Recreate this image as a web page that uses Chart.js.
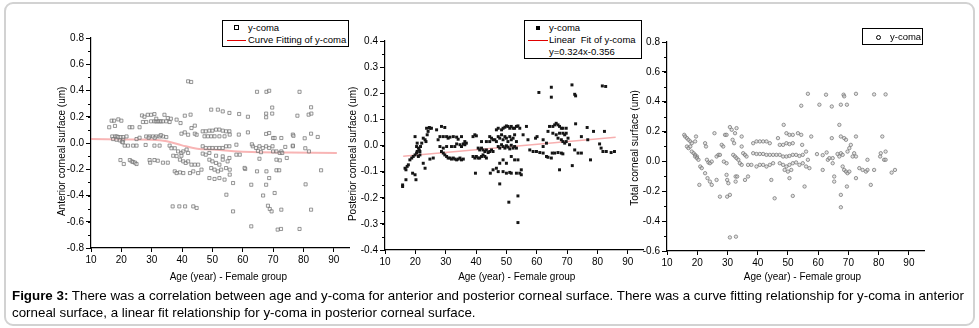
<!DOCTYPE html>
<html><head><meta charset="utf-8">
<script src="https://cdn.jsdelivr.net/npm/chart.js@4/dist/chart.umd.min.js"></script>
<style>
html,body{margin:0;padding:0;background:#fff;}
body{width:979px;height:328px;position:relative;overflow:hidden;font-family:"Liberation Sans",Arial,sans-serif;}
#frame{position:absolute;left:4px;top:2px;width:971px;height:324px;box-sizing:border-box;border:2px solid #d2d2d2;border-radius:9px;}
canvas{position:absolute;top:0;}
.leg{position:absolute;border:1px solid #000;background:#fff;box-sizing:border-box;font-size:9.5px;color:#000;}
.row{position:absolute;white-space:nowrap;line-height:12px;}
.sq{position:absolute;width:3px;height:3px;border:1px solid #000;}
.fsq{position:absolute;width:4px;height:4px;background:#000;}
.circ{position:absolute;width:3px;height:3px;border:1px solid #000;border-radius:50%;}
.rl{position:absolute;height:1px;background:#e00000;}
#cap{position:absolute;left:12px;top:287px;font-size:13.35px;line-height:17px;color:#000;white-space:nowrap;}
</style></head>
<body>
<div id="frame"></div>
<canvas id="c1" width="355" height="292" style="left:0px"></canvas>
<canvas id="c2" width="355" height="292" style="left:294px"></canvas>
<canvas id="c3" width="354" height="292" style="left:576px"></canvas>

<div class="leg" style="left:222px;top:20px;width:127px;height:27px;">
  <span class="sq" style="left:11px;top:4px;"></span>
  <span class="row" style="left:25px;top:1px;">y-coma</span>
  <span class="rl" style="left:4px;top:19px;width:19px;"></span>
  <span class="row" style="left:25px;top:13px;">Curve Fitting of y-coma</span>
</div>
<div class="leg" style="left:524px;top:20px;width:118px;height:39px;">
  <span class="fsq" style="left:11px;top:5px;"></span>
  <span class="row" style="left:24px;top:1px;">y-coma</span>
  <span class="rl" style="left:3px;top:19px;width:20px;"></span>
  <span class="row" style="left:24px;top:13px;">Linear&nbsp; Fit of y-coma</span>
  <span class="row" style="left:24px;top:25px;">y=0.324x-0.356</span>
</div>
<div class="leg" style="left:862px;top:28px;width:61px;height:17px;">
  <span class="circ" style="left:13px;top:6px;"></span>
  <span class="row" style="left:27px;top:2px;">y-coma</span>
</div>

<div id="cap"><b>Figure 3:</b> There was a correlation between age and y-coma for anterior and posterior corneal surface. There was a curve fitting relationship for y-coma in anterior<br>corneal surface, a linear fit relationship for y-coma in posterior corneal surface.</div>

<script>
// ---------- tick labels ----------
const xTickValues = [10,20,30,40,50,60,70,80,90];
const yTicksAnterior = [-0.8,-0.6,-0.4,-0.2,0.0,0.2,0.4,0.6,0.8];
const yTicksPosterior = [-0.4,-0.3,-0.2,-0.1,0.0,0.1,0.2,0.3,0.4];
const yTicksTotal = [-0.6,-0.4,-0.2,0.0,0.2,0.4,0.6,0.8];

// ---------- anterior corneal surface ----------
const anteriorAge = [
16,16.8,17.6,17.9,19,20,
17,18,18.5,19,19.8,20.6,21.7,
17.3,18.4,19.5,20.6,20.2,20.5,
21.1,22.2,23.9,25,
19.7,20.8,22.8,23.4,23.9,24.5,25,
22.7,23.6,26,
26.8,27.6,28.7,29.8,30.9,
27.1,28.2,29.8,30.9,31.5,32,32.6,33.1,33.7,34.8,35.9,
31.5,34.2,35.3,
25,26,28.2,29.3,30.4,31.5,32.6,33.7,34.8,29,31,33,
30.9,32.6,35.9,28,
29.3,30.9,32,33.7,35.3,29.5,
36.3,
36.5,37.6,38.7,39.8,40.4,41.5,42,
37.1,38.2,39.8,
37.6,38.2,39.3,40.4,
39.3,40.4,41.2,
38.2,39.5,40.9,42.8,
39.8,40.9,42,43.1,44.2,44.2,44.8,
42,43,
36.9,39.1,41,43.7,44.8,
42,43.1,44.2,45.3,
42.6,43.7,45.3,46.4,
46.8,47.8,49,50,51.2,52.3,53.4,54.5,55.6,
47.4,48.5,49.6,50.7,52.3,54,
46.8,47.8,49,50,51.2,52.3,53.4,54.5,55.6,
46.8,47.8,49,51.2,53.4,55.6,
49,50,51.2,52.3,53.4,55,
49.6,50.7,51.8,52.9,54.5,
49.6,51.8,53.4,55.6,
49,50.7,52.3,54,
54.6,55.7,55.7,56.8,56.8,
55.7,57.9,57.9,59,58.8,58.7,
61.7,61.7,60.8,62.8,62.8,
63.3,64.4,65.5,66.6,67.7,68.7,69.8,
64.7,67.8,68.7,
64.7,67.8,68.7,66.7,
67.7,67.7,67.7,68.7,67.7,68.3,68.9,69.5,
69.7,69.7,70,70.5,70,71.1,72.2,
70.5,71.1,72.2,71.1,72,71.5,72.6,
72.7,72.7,72.7,73,74.5,
76.5,76.5,76.5,78,78.7,78.7,
80.4,80.7,81.7,82.6,81.8,82.5,82.5,82.5,
84.7,85.8,
63,65,66,74,76.7,80.6,65.5,60.6
];
const anteriorComa = [
0.12,0.17,0.17,0.13,0.18,0.17,
0.05,0.05,0.05,0.045,0.045,0.045,0.05,
0.03,0.025,0.02,0.025,0.01,0.005,
-0.02,-0.02,-0.02,-0.02,
-0.13,-0.16,-0.13,-0.14,-0.145,-0.15,-0.16,
0.12,0.12,0.12,
0.21,0.2,0.215,0.215,0.22,
0.16,0.16,0.165,0.165,0.165,0.165,0.165,0.165,0.165,0.165,0.16,
0.185,0.215,0.19,
0.03,0.04,0.05,0.05,0.05,0.05,0.05,0.05,0.045,0.04,0.04,0.06,
-0.02,-0.02,-0.02,-0.015,
-0.13,-0.13,-0.135,-0.15,-0.15,-0.15,
0.185,
-0.04,-0.04,-0.064,-0.076,-0.064,-0.05,-0.076,
-0.097,-0.1,-0.097,
-0.216,-0.229,-0.224,-0.229,
-0.127,-0.14,-0.152,
0.178,0.152,0.208,0.216,
0.071,0.081,0.063,0.114,0.132,0.071,0.063,
0.47,0.465,
-0.483,-0.483,-0.483,-0.483,-0.495,
-0.14,-0.165,-0.165,-0.165,
-0.229,-0.216,-0.229,-0.203,
0.089,0.089,0.094,0.094,0.102,0.102,0.094,0.089,0.089,
0.051,0.051,0.051,0.051,0.051,0.051,
-0.025,-0.038,-0.038,-0.038,-0.038,-0.038,-0.038,-0.025,-0.025,
-0.081,-0.089,-0.076,-0.097,-0.102,-0.114,
-0.127,-0.14,-0.152,-0.165,-0.127,-0.14,
-0.191,-0.203,-0.216,-0.203,-0.191,
0.254,0.254,0.241,0.229,
-0.267,-0.274,-0.267,-0.279,
-0.394,-0.203,-0.241,-0.305,-0.521,
0.064,-0.013,-0.089,-0.089,0.221,0.064,
0.2,0.081,-0.198,-0.318,-0.635,
-0.025,-0.038,-0.025,-0.038,-0.025,-0.038,-0.025,
0.39,0.39,0.398,
-0.216,-0.216,-0.267,-0.4,
0.196,0.224,0.069,0.076,-0.318,-0.478,-0.503,-0.521,
0.27,0.224,0.038,0.038,-0.064,-0.064,-0.076,
-0.381,-0.127,-0.132,-0.208,-0.208,-0.66,-0.655,
0.038,-0.508,-0.064,-0.076,-0.114,
-0.025,-0.02,0.064,0.208,0.39,-0.655,
0.036,-0.315,0.216,0.224,-0.064,0.272,0.071,-0.508,
0.046,-0.208,
-0.01,-0.06,-0.07,-0.03,0.055,-0.04,-0.12,-0.19
];
const curveAge = [10,20,30,35,40,45,50,57,63,75,91];
const curveComa = [0.03,0.027,0.025,0.013,-0.018,-0.043,-0.05,-0.063,-0.069,-0.073,-0.076];

// ---------- posterior corneal surface ----------
const posteriorAge = [
15.8,15.8,16.9,16.6,16.9,17.3,17.7,18.2,18.8,19.3,19.9,20.4,
19.1,19.9,20.2,19.9,20.4,20.6,21.0,21.3,21.5,21.7,22.1,20.6,21.0,21.5,
22.6,23.2,23.5,23.9,24.2,24.8,23.7,24.6,25.3,22.6,23.2,25.9,24.8,
27.0,27.5,28.1,28.6,29.7,28.1,29.2,30.3,30.8,31.4,
28.6,29.2,29.7,30.3,30.8,31.4,31.9,32.5,33.0,33.6,34.1,34.7,35.2,35.8,
29.2,30.3,31.9,33.0,33.6,34.7,35.2,35.8,36.3,36.8,
32.5,33.6,34.1,35.2,36.3,
39.0,39.6,40.1,39.0,39.6,40.1,40.7,41.2,41.8,42.3,42.9,43.4,39.8,
40.7,41.2,41.8,42.3,42.9,43.4,44.0,44.5,45.1,45.6,
41.8,43.4,44.5,44.5,45.1,45.6,46.2,46.7,
44.7,45.6,46.7,47.3,47.8,
46.7,47.3,48.4,48.9,49.5,50.0,50.5,51.1,51.6,52.2,52.7,53.3,53.8,54.4,
47.3,47.8,48.4,48.9,49.5,50.0,50.5,51.1,51.6,52.2,52.7,53.3,
47.3,47.8,48.4,48.9,49.5,50.0,50.5,51.1,51.6,52.2,52.7,53.3,
47.8,48.9,50.0,51.6,52.7,53.8,
48.9,50.0,51.1,51.6,53.3,54.4,54.9,54.9,
50.8,53.8,53.8,
55.5,56.6,57.1,57.7,58.8,59.9,61.0,62.1,63.2,59.6,60.1,62.1,
60.7,64.8,64.8,
62.1,63.2,63.7,64.8,65.1,65.9,67.0,68.1,68.6,
63.7,64.2,65.3,65.9,66.4,67.0,67.5,68.1,68.6,69.7,
65.3,66.4,67.5,68.6,69.2,69.7,70.3,
67.0,68.1,68.6,69.2,69.7,70.8,
67.5,71.6,72.5,72.8,71.7,72.8,72.5,73.6,74.7,74.7,
76.6,76.8,77.7,78.7,80.7,81.2,81.6,82.7,81.8,82.9,82.3,84.5,85.6
];
const posteriorComa = [
-0.151,-0.157,-0.131,-0.087,-0.093,-0.080,-0.074,-0.055,-0.048,-0.042,-0.036,-0.029,
-0.106,-0.112,-0.131,0.034,-0.004,0.009,-0.010,-0.017,-0.023,-0.004,0.009,-0.023,-0.042,-0.036,
0.028,0.022,0.015,0.041,0.054,0.066,0.066,0.069,0.066,-0.068,-0.087,-0.048,-0.052,
0.060,0.022,-0.004,0.073,0.069,0.034,0.034,0.034,0.028,0.032,
-0.023,-0.029,-0.036,-0.042,-0.048,-0.048,-0.052,-0.048,-0.052,-0.055,-0.052,-0.048,-0.055,-0.052,
-0.010,-0.004,-0.004,-0.004,0.006,0.003,-0.004,0.006,0.003,0.009,
0.034,0.032,0.024,0.034,0.015,
0.034,0.041,0.037,-0.042,-0.048,-0.042,-0.048,-0.048,-0.042,-0.036,-0.042,-0.048,-0.106,
-0.010,-0.017,-0.010,-0.017,-0.023,-0.017,-0.027,-0.023,-0.017,-0.023,
0.015,0.015,0.015,0.034,0.028,0.022,0.022,0.015,
-0.106,-0.093,-0.087,-0.100,-0.147,
0.060,0.066,0.060,0.066,0.070,0.075,0.073,0.066,0.073,0.066,0.066,0.073,0.075,0.066,
0.034,0.028,0.041,0.022,0.034,0.028,0.015,0.034,0.022,0.028,0.041,0.015,
-0.004,-0.010,0.003,-0.004,-0.010,-0.001,-0.006,-0.013,0.001,-0.010,-0.004,-0.010,
-0.068,-0.055,-0.068,-0.042,-0.055,-0.055,
-0.100,-0.106,-0.103,-0.106,-0.106,-0.106,-0.093,-0.112,
-0.217,-0.193,-0.295,
0.041,0.073,0.022,-0.017,-0.023,-0.023,-0.027,-0.004,0.009,0.028,0.034,0.022,
0.203,0.223,0.185,
-0.029,-0.042,-0.045,-0.048,-0.029,-0.029,-0.027,-0.029,-0.032,
0.054,0.073,0.073,0.079,0.085,0.079,0.073,0.066,0.066,0.066,
0.047,0.041,0.047,0.047,0.041,0.047,0.028,
0.028,0.022,0.015,0.009,0.015,0.003,
-0.093,0.232,0.196,0.190,-0.077,0.083,-0.017,-0.029,-0.029,0.034,
0.069,0.022,-0.055,0.054,0.006,-0.010,0.228,0.226,-0.023,-0.023,0.054,-0.027,-0.023
];
const linearAge = [16,86];
const linearComa = [-0.041,0.032];

// ---------- total corneal surface ----------
const totalAge = [
15.7,16.0,16.6,17.1,17.7,18.2,19.3,19.6,
16.6,17.1,17.7,18.2,18.8,19.3,19.9,19.3,19.9,20.4,21.0,21.5,20.7,
22.6,22.9,22.6,23.2,23.7,24.2,24.8,23.4,24.2,24.8,
25.7,26.4,27.0,27.5,26.4,27.5,
28.1,28.6,29.2,29.7,28.8,29.7,29.7,29.9,30.3,29.9,30.8,
30.8,31.4,31.7,32.2,31.9,32.5,33.0,33.6,34.1,34.7,32.5,33.0,32.7,32.7,33.2,30.8,32.8,
34.7,34.7,35.2,35.8,36.3,36.8,35.8,36.8,37.9,
38.5,39.6,40.7,41.8,42.9,44.0,
38.5,39.6,40.7,41.8,42.9,44.0,45.1,46.2,
39.6,40.7,41.8,42.9,44.0,45.1,44.5,45.6,
46.7,47.3,48.4,49.5,50.5,51.6,48.6,49.5,50.5,51.6,
47.3,48.4,49.5,50.5,51.6,52.7,53.8,54.9,
47.3,48.4,49.5,50.5,51.6,52.7,53.8,54.9,56.0,
48.9,50.0,51.1,50.5,51.6,
53.3,54.4,54.7,54.4,55.5,56.0,56.6,57.1,56.6,57.7,59.6,60.4,61.5,61.5,62.8,62.6,
63.2,63.7,64.5,64.5,64.8,64.8,65.3,65.3,
66.4,67.0,67.5,68.1,67.0,67.5,67.5,68.6,69.2,67.5,67.5,
68.1,68.6,69.2,69.7,70.3,68.4,68.6,69.5,69.5,69.7,70.3,70.8,71.4,71.9,
72.5,72.5,72.5,72.5,73.6,74.7,75.8,76.3,76.3,77.4,78.5,78.5,
80.5,80.7,81.2,81.8,82.3,82.3,82.3,84.3,85.4
];
const totalComa = [
0.178,0.167,0.156,0.145,0.134,0.122,0.134,0.167,
0.100,0.089,0.100,0.066,0.055,0.044,0.033,0.033,0.022,0.011,-0.034,-0.045,-0.157,
0.122,0.100,-0.079,0.011,-0.007,-0.012,-0.001,-0.112,-0.135,-0.157,
0.189,0.033,0.044,0.044,-0.124,-0.236,
0.111,0.100,0.178,0.178,-0.001,-0.012,-0.090,-0.124,-0.146,-0.236,-0.224,
0.230,0.212,0.145,0.122,0.044,0.033,0.022,0.011,-0.012,-0.023,0.189,0.223,-0.101,-0.135,-0.101,-0.509,-0.504,
0.167,0.100,0.055,0.044,0.033,-0.023,-0.124,-0.101,-0.023,
0.122,0.134,0.134,0.134,0.134,0.122,
0.055,0.050,0.050,0.050,0.044,0.044,0.044,0.044,
-0.034,-0.023,-0.023,-0.034,-0.023,-0.012,-0.124,-0.247,
0.156,0.111,0.111,0.122,0.116,0.122,0.245,0.189,0.178,0.178,
0.044,0.033,0.033,0.037,0.044,0.044,0.037,0.044,
-0.012,-0.023,-0.034,-0.023,-0.012,-0.007,-0.023,-0.012,-0.034,
-0.057,-0.068,-0.057,-0.112,-0.231,
0.189,0.178,0.111,0.373,-0.168,0.066,0.011,-0.045,0.453,0.167,0.049,0.380,-0.057,0.042,0.060,0.447,
0.011,0.022,0.368,0.156,0.022,-0.012,-0.101,-0.135,
0.050,0.033,0.055,0.044,0.245,0.380,0.167,0.156,0.145,-0.224,-0.307,
-0.034,-0.057,-0.068,-0.079,-0.068,0.447,0.436,0.380,-0.168,0.066,0.089,0.111,0.033,0.055,
0.453,0.167,0.033,-0.112,-0.045,-0.057,-0.068,-0.057,0.011,-0.157,-0.057,0.449,
0.033,0.055,0.167,0.011,0.011,0.449,0.066,-0.075,-0.057
];

// ---------- helpers ----------
function zip(xs, ys){ const n=Math.min(xs.length, ys.length); const out=[]; for(let i=0;i<n;i++) out.push({x:xs[i], y:ys[i]}); return out; }

const FONT = '"Liberation Sans", Arial, sans-serif';

const minorTicks = {
  id: 'minorTicks',
  afterDraw(chart, args, opts){
    const s = chart.scales.y; if(!opts || !opts.step) return;
    const ctx = chart.ctx;
    ctx.save(); ctx.strokeStyle = '#000'; ctx.lineWidth = 1;
    const n = Math.round((s.max - s.min)/opts.step);
    for(let i=0;i<=n;i++){
      const v = s.min + i*opts.step;
      const p = Math.round(s.getPixelForValue(v)) + 0.5;
      ctx.beginPath(); ctx.moveTo(s.right - 3, p); ctx.lineTo(s.right, p); ctx.stroke();
    }
    ctx.restore();
  }
};

function makePanel(id, cfg){
  new Chart(document.getElementById(id), {
    type: 'scatter',
    data: { datasets: cfg.datasets },
    plugins: [minorTicks],
    options: {
      responsive: false, animation: false, devicePixelRatio: 1,
      layout: { padding: { left: 0, top: cfg.top, right: cfg.right, bottom: 0 } },
      plugins: { legend: { display: false }, tooltip: { enabled: false }, minorTicks: { step: cfg.minor } },
      scales: {
        x: {
          type: 'linear', min: 10, max: 95,
          afterBuildTicks: s => { s.ticks = xTickValues.map(v => ({ value: v })); },
          afterFit: s => { s.height = cfg.xh; },
          grid: { display: true, drawOnChartArea: false, drawTicks: true, tickLength: 4, color: '#000' },
          border: { display: true, color: '#000', width: 1.2 },
          ticks: { color: '#000', font: { family: FONT, size: 10 }, padding: 2, maxRotation: 0, callback: v => String(v) },
          title: { display: true, text: cfg.xTitle, color: '#000', font: { family: FONT, size: 10 }, padding: { top: 0, bottom: 9 } }
        },
        y: {
          type: 'linear', min: cfg.yTicks[0], max: cfg.yTicks[cfg.yTicks.length-1],
          afterBuildTicks: s => { s.ticks = cfg.yTicks.map(v => ({ value: v })); },
          afterFit: s => { s.width = 91; },
          grid: { display: true, drawOnChartArea: false, drawTicks: true, tickLength: 5, color: '#000' },
          border: { display: true, color: '#000', width: 1.2 },
          ticks: { color: '#000', font: { family: FONT, size: 10 }, padding: 2, callback: v => Number(v).toFixed(1) },
          title: { display: true, text: cfg.yTitle, color: '#000', font: { family: FONT, size: 10 }, padding: { top: cfg.yTitlePad, bottom: 0 } }
        }
      }
    }
  });
}

const NB = n => '\u00a0'.repeat(n);

makePanel('c1', {
  top: 38, right: 6, xh: 44, minor: 0.1, yTicks: yTicksAnterior, yTitlePad: 56,
  xTitle: NB(6) + 'Age (year) - Female group',
  yTitle: 'Anterior corneal surface (um)' + NB(6),
  datasets: [
    { data: zip(anteriorAge, anteriorComa), pointStyle: 'rect', pointRadius: 2.2, borderWidth: 1,
      borderColor: 'rgba(110,110,110,0.7)', backgroundColor: 'rgba(235,235,235,0.4)' },
    { data: zip(curveAge, curveComa), showLine: true, pointRadius: 0, borderWidth: 2, tension: 0.4,
      borderColor: 'rgba(240,90,90,0.45)' }
  ]
});

makePanel('c2', {
  top: 41, right: 6, xh: 42, minor: 0.05, yTicks: yTicksPosterior, yTitlePad: 53,
  xTitle: NB(2) + 'Age (year) - Female group',
  yTitle: 'Posterior corneal surface (um)' + NB(6),
  datasets: [
    { data: zip(posteriorAge, posteriorComa), pointStyle: 'rect', pointRadius: 2.1, borderWidth: 0,
      borderColor: '#151515', backgroundColor: '#151515' },
    { data: zip(linearAge, linearComa), showLine: true, pointRadius: 0, borderWidth: 1.5,
      borderColor: 'rgba(240,110,110,0.55)' }
  ]
});

makePanel('c3', {
  top: 42, right: 6, xh: 41, minor: 0.1, yTicks: yTicksTotal, yTitlePad: 53,
  xTitle: NB(5) + 'Age (year) - Female group',
  yTitle: 'Total corneal surface (um)' + NB(1),
  datasets: [
    { data: zip(totalAge, totalComa), pointStyle: 'circle', pointRadius: 1.7, borderWidth: 1,
      borderColor: 'rgba(110,110,110,0.7)', backgroundColor: 'rgba(200,200,200,0.5)' }
  ]
});
</script>
</body></html>
